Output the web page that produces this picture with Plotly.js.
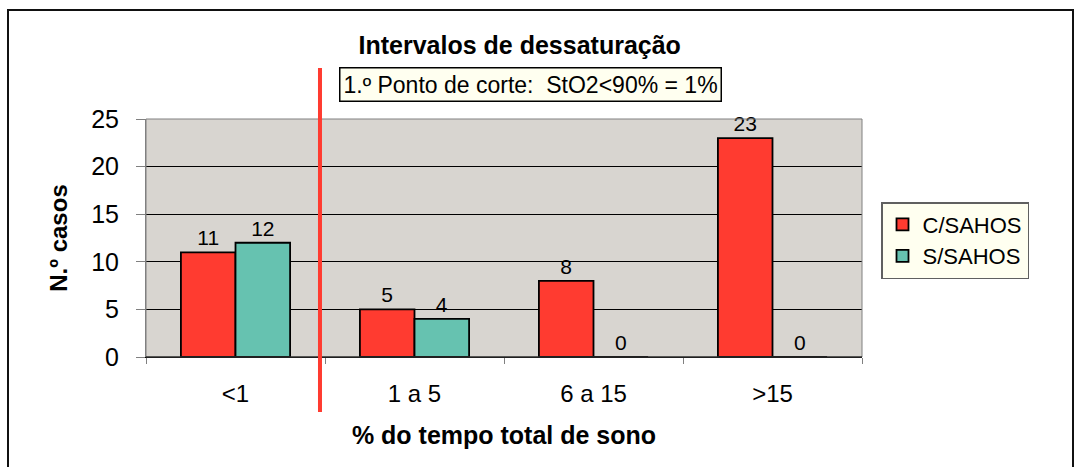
<!DOCTYPE html>
<html>
<head>
<meta charset="utf-8">
<script src="https://cdn.plot.ly/plotly-3.0.1.min.js"></script>
<style>
  html, body { margin: 0; padding: 0; background: #ffffff; }
  #chart { width: 1076px; height: 467px; }
</style>
</head>
<body>
<div id="chart"></div>
<script>
// ---- Data ----
const categories = ["<1", "1 a 5", "6 a 15", ">15"];
const seriesNames = ["C/SAHOS", "S/SAHOS"];
const cSahos = [11, 5, 8, 23];
const sSahos = [12, 4, 0, 0];
const yTickVals = [0, 5, 10, 15, 20, 25];
const chartTitle = "Intervalos de dessaturação";
const xTitle = "% do tempo total de sono";
const yTitle = "N.º casos";
const cutNote = "1.º Ponto de corte:\u00A0\u00A0StO2<90% = 1%";
const cutPosition = 0.472; // between "<1" and "1 a 5"

// ---- Styles ----
const FONT = "Liberation Sans, Arial, Helvetica, sans-serif";
const RED = "#FF3B30";
const TEAL = "#66C2B0";

const traces = [
  {
    type: "bar", name: seriesNames[0], x: categories, y: cSahos,
    marker: { color: RED, line: { color: "#000000", width: 1.8 } },
    text: cSahos.map(String), textposition: "outside", cliponaxis: false,
    textfont: { family: FONT, size: 21, color: "#000000" }
  },
  {
    type: "bar", name: seriesNames[1], x: categories, y: sSahos,
    marker: { color: TEAL, line: { color: "#000000", width: 1.8 } },
    text: sSahos.map(String), textposition: "outside", cliponaxis: false,
    textfont: { family: FONT, size: 21, color: "#000000" }
  }
];

const layout = {
  width: 1076, height: 467,
  margin: { l: 146, r: 214, t: 119, b: 110, pad: 0 },
  paper_bgcolor: "#FFFFFF",
  plot_bgcolor: "#D8D5D0",
  barmode: "group",
  bargap: 0.39,
  bargroupgap: 0,
  font: { family: FONT, color: "#000000" },
  title: {
    text: chartTitle,
    font: { family: FONT, size: 25, weight: "bold", color: "#000000" },
    x: 0.483, xanchor: "center", xref: "container",
    y: 1 - 45 / 467, yanchor: "middle", yref: "container"
  },
  xaxis: {
    type: "category",
    tickson: "boundaries",
    ticks: "outside", ticklen: 6, tickcolor: "#808080", tickwidth: 1,
    showgrid: false, zeroline: false,
    showline: true, linecolor: "#000000", linewidth: 1,
    tickfont: { family: FONT, size: 24, color: "#000000" },
    ticklabelstandoff: 15,
    title: {
      text: xTitle, standoff: 20,
      font: { family: FONT, size: 25, weight: "bold", color: "#000000" }
    }
  },
  yaxis: {
    range: [0, 25],
    tickvals: yTickVals,
    ticks: "outside", ticklen: 9, tickcolor: "#808080", tickwidth: 1,
    showgrid: true, gridcolor: "#000000", gridwidth: 1,
    zeroline: false,
    showline: true, linecolor: "#808080", linewidth: 1,
    tickfont: { family: FONT, size: 25, color: "#000000" },
    ticklabelstandoff: 12,
    title: {
      text: yTitle, standoff: 16,
      font: { family: FONT, size: 24, weight: "bold", color: "#000000" }
    }
  },
  legend: {
    x: (881 - 146) / 716, xanchor: "left",
    y: (357 - 202) / 238, yanchor: "top",
    bgcolor: "#FFFFF0", bordercolor: "#606060", borderwidth: 1.5,
    font: { family: FONT, size: 22, color: "#000000" },
    itemwidth: 30
  },
  annotations: [
    {
      text: cutNote, xref: "paper", yref: "paper",
      x: (530 - 146) / 716, y: (357 - 84) / 238,
      xanchor: "center", yanchor: "middle", showarrow: false,
      font: { family: FONT, size: 23, color: "#000000" },
      bgcolor: "#FFFFF0", bordercolor: "#000000", borderwidth: 1.5, borderpad: 3
    }
  ],
  shapes: [
    // outer chart border
    { type: "rect", xref: "paper", yref: "paper",
      x0: (8 - 146) / 716, x1: (1073 - 146) / 716,
      y0: (357 - 480) / 238, y1: (357 - 10) / 238,
      line: { color: "#111111", width: 2 }, fillcolor: "rgba(0,0,0,0)", layer: "below" },
    // plot area border (gray top/right)
    { type: "rect", xref: "paper", yref: "paper", x0: 0, x1: 1, y0: 0, y1: 1,
      line: { color: "#808080", width: 1 }, fillcolor: "rgba(0,0,0,0)", layer: "above" },
    // re-draw bottom axis line black
    { type: "line", xref: "paper", yref: "paper", x0: 0, x1: 1, y0: 0, y1: 0,
      line: { color: "#000000", width: 1 }, layer: "above" },
    // cut-off red line
    { type: "line", xref: "x", yref: "paper",
      x0: cutPosition, x1: cutPosition,
      y0: (357 - 412) / 238, y1: (357 - 68) / 238,
      line: { color: RED, width: 4 }, layer: "above" }
  ]
};

Plotly.newPlot("chart", traces, layout, { displayModeBar: false, staticPlot: true });
</script>
</body>
</html>
